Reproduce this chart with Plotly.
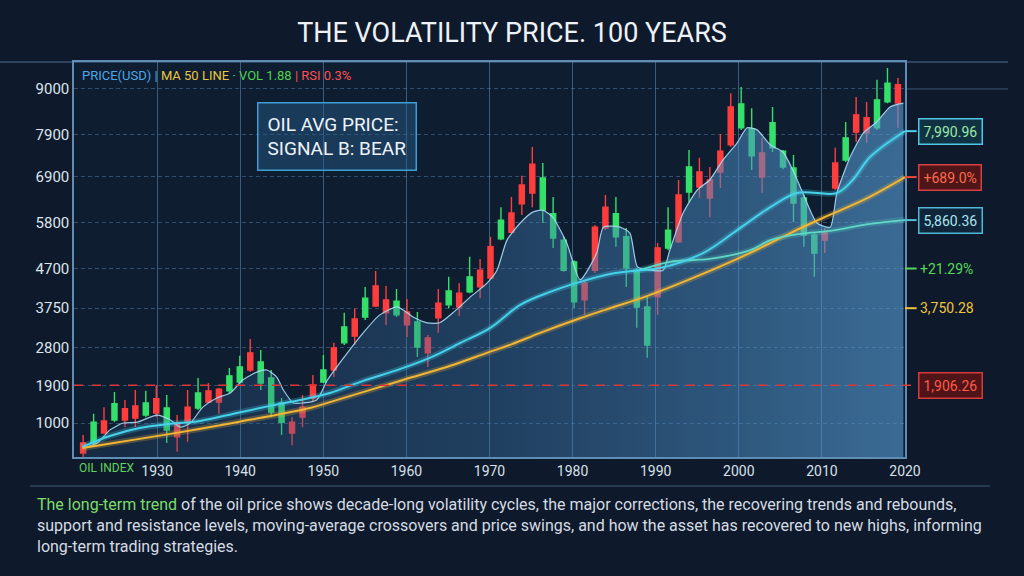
import plotly.graph_objects as go

# ---------------- data ----------------
opens = [520, 520, 1050, 1070, 1340, 1410, 1190, 1580, 830, 1000, 1380, 1360, 1770, 1810, 1770, 1980, 2680, 1960, 1260, 1020,
         1020, 1380, 1910, 1980, 2800, 2920, 3490, 3540, 4280, 3950, 3590, 3660, 2820, 3040, 3870, 3830, 4110, 4140, 4660, 5220,
         5410, 6030, 6700, 7200, 6100, 5430, 4660, 3900, 4350, 5690, 6170, 5460, 4710, 3780, 2870, 5190, 5190, 6460, 6530, 7010,
         6820, 7510, 8570, 8070, 7400, 7470, 7590, 7130, 6270, 5500, 5070, 5570, 7230, 7300, 8380, 8310, 8070, 8690, 9100]
highs = [710, 1220, 1380, 1740, 1550, 1790, 1770, 1910, 1670, 1190, 1790, 2080, 1960, 1840, 2320, 2610, 3010, 2750, 2270, 1600,
         1140, 1670, 2150, 2630, 2920, 3640, 3750, 4260, 4640, 4280, 4210, 3970, 3660, 3110, 4210, 4500, 4350, 4980, 4930, 5460,
         6170, 6410, 6920, 7610, 7230, 6410, 5460, 4900, 4430, 5740, 6460, 6410, 5670, 4710, 4040, 5310, 6170, 6820, 7540, 7350,
         7130, 7920, 8900, 9050, 8540, 7830, 8570, 7540, 7420, 6460, 5570, 5670, 7590, 8210, 8810, 8690, 9220, 9500, 9260]
lows = [160, 470, 740, 1020, 900, 900, 1140, 1140, 520, 310, 550, 1310, 1480, 1220, 1720, 1960, 2220, 1790, 1140, 710,
        470, 900, 1500, 1960, 2100, 2870, 2870, 3470, 3780, 3350, 3540, 3060, 2580, 2340, 3160, 3750, 3560, 4110, 3990, 4430,
        5380, 5550, 5980, 6170, 5790, 5190, 4620, 3750, 3590, 4590, 5620, 5220, 4260, 3280, 2560, 3590, 5140, 5310, 6290, 6390,
        5930, 6630, 7610, 8020, 7060, 6510, 7490, 7080, 5810, 5220, 4500, 5070, 6580, 7250, 7730, 7710, 8020, 8660, 8070]
closes = [280, 1020, 760, 1460, 1070, 1120, 1480, 1240, 1360, 670, 1020, 1720, 1500, 1500, 2130, 2340, 2270, 2460, 2080, 1480,
          760, 1140, 1600, 2270, 2270, 3300, 3080, 3990, 3800, 3640, 3920, 3350, 3420, 2680, 3520, 4160, 3780, 4500, 4260, 4470,
          5860, 5570, 6250, 6510, 6870, 6010, 5380, 4860, 3950, 4660, 5670, 6010, 5460, 4660, 3780, 4020, 5620, 5340, 7130, 6650,
          6390, 7010, 7660, 8640, 8040, 6890, 8190, 7510, 7110, 6390, 5500, 5380, 6630, 7830, 7970, 7950, 8740, 9140, 8660]
candle_years = [round(1921.1 + 1.257 * i, 2) for i in range(len(opens))]

fast_years = [1921.1, 1922.8, 1924.3, 1925.9, 1927.6, 1930.0, 1931.6, 1932.8, 1934.0, 1935.5, 1937.2, 1938.8, 1940.3, 1942.0,
              1943.2, 1944.4, 1945.2, 1946.4, 1947.6, 1949.2, 1950.5, 1952.9, 1954.8, 1956.8, 1958.9, 1960.8, 1962.5, 1964.0,
              1965.6, 1967.7, 1969.7, 1970.9, 1972.1, 1973.7, 1975.2, 1976.4, 1977.6, 1979.3, 1980.9, 1982.9, 1983.7, 1985.7,
              1986.9, 1987.8, 1989.3, 1990.9, 1991.7, 1993.3, 1995.0, 1996.5, 1998.1, 1999.8, 2001.0, 2002.2, 2003.8, 2005.3,
              2006.5, 2007.7, 2009.4, 2011.0, 2011.8, 2013.4, 2015.0, 2016.6, 2018.2, 2019.8]
fast_vals = [400, 520, 830, 1000, 1020, 1190, 1070, 900, 1000, 1380, 1600, 1720, 2030, 2220,
             2270, 2100, 1790, 1480, 1480, 1550, 2030, 2680, 3160, 3590, 3780, 3540, 3400, 3400,
             3640, 4020, 4350, 4660, 5380, 5790, 6050, 6100, 5930, 5310, 4430, 5070, 5690, 5690,
             5550, 4740, 4660, 4660, 5140, 6030, 6580, 6820, 7300, 7710, 8070, 8020, 7660, 7490,
             7060, 6510, 5790, 5690, 6510, 7370, 7950, 8210, 8570, 8660]

mid_years = [1921.0, 1924.3, 1927.9, 1931.6, 1935.2, 1939.6, 1943.6, 1947.2, 1950.8, 1954.8, 1959.2, 1962.8, 1966.5, 1970.1,
             1973.7, 1977.3, 1980.9, 1984.5, 1988.1, 1990.5, 1995.7, 1999.8, 2003.8, 2007.0, 2011.8, 2013.7, 2015.8, 2020.0]
mid_vals = [430, 690, 880, 980, 1050, 1240, 1410, 1550, 1720, 2010, 2290, 2560, 2920, 3280,
            3830, 4140, 4380, 4570, 4660, 4710, 5070, 5620, 6170, 6510, 6510, 6820, 7370, 7990]

slow_years = [1988.1, 1991.7, 1996.5, 2001.4, 2003.8, 2007.4, 2011.0, 2015.8, 2020.0]
slow_vals = [4660, 4860, 4930, 5140, 5380, 5530, 5600, 5770, 5860]

long_years = [1921.0, 1923.1, 1931.6, 1939.6, 1948.4, 1950.8, 1959.6, 1965.3, 1969.7, 1972.7, 1976.1, 1980.9, 1984.5,
              1988.7, 1995.3, 2000.8, 2006.2, 2010.1, 2015.2, 2020.0]
long_vals = [400, 470, 740, 1020, 1360, 1500, 2030, 2370, 2680, 2890, 3160, 3510, 3750,
             4020, 4540, 5020, 5550, 5910, 6360, 6890]

support_level = 1906
y_tick_vals = [1000, 1900, 2800, 3750, 4700, 5800, 6900, 7900, 9000]
y_tick_text = ["1000", "1900", "2800", "3750", "4700", "5800", "6900", "7900", "9000"]
x_tick_vals = [1930, 1940, 1950, 1960, 1970, 1980, 1990, 2000, 2010, 2020]
x_tick_text = ["1930", "1940", "1950", "1960", "1970", "1980", "1990", "2000", "2010", "2020"]

right_labels = [  # (value, text, text colour, border colour, background)
    (7990, "7,990.96", "#9be8a8", "#4fc6e6", "rgba(18,55,70,0.85)"),
    (6890, "+689.0%", "#ff6a48", "#d84040", "rgba(90,22,22,0.85)"),
    (5860, "5,860.36", "#a9e6f2", "#4fb8d8", "rgba(16,40,60,0.85)"),
    (4700, "+21.29%", "#58d858", None, None),
    (3750, "3,750.28", "#f0c43a", None, None),
    (support_level, "1,906.26", "#ff5a4a", "#d83a3a", "rgba(90,20,20,0.85)"),
]
connector_colors = ["#4fd0e8", "#e84a3a", "#4fc0d8", "#58d858", "#f0c43a", "#e03a3a"]

FONT = "Roboto, 'Noto Sans', sans-serif"

fig = go.Figure()

# filled area under the fast line
fig.add_trace(go.Scatter(
    x=fast_years, y=fast_vals, mode="lines", line=dict(color="rgba(170,220,245,0.9)", width=1.2, shape="spline", smoothing=0.6),
    fill="tozeroy",
    fillgradient=dict(type="horizontal",
                      colorscale=[[0, "rgba(45,90,140,0.22)"], [0.5, "rgba(60,120,175,0.38)"], [1, "rgba(85,155,210,0.62)"]]),
    hoverinfo="skip", showlegend=False))

# glow layers
for yrs, vals, col in [(long_years, long_vals, "rgba(240,180,50,0.25)"),
                       (mid_years, mid_vals, "rgba(70,210,235,0.25)"),
                       (slow_years, slow_vals, "rgba(90,215,200,0.2)")]:
    fig.add_trace(go.Scatter(x=yrs, y=vals, mode="lines", line=dict(color=col, width=6, shape="spline"),
                             hoverinfo="skip", showlegend=False))

fig.add_trace(go.Scatter(x=long_years, y=long_vals, mode="lines",
                         line=dict(color="#f2b534", width=2, shape="spline"), showlegend=False))
fig.add_trace(go.Scatter(x=slow_years, y=slow_vals, mode="lines",
                         line=dict(color="#5fd8c4", width=1.8, shape="spline"), showlegend=False))
fig.add_trace(go.Scatter(x=mid_years, y=mid_vals, mode="lines",
                         line=dict(color="#45d2ea", width=2, shape="spline"), showlegend=False))

fig.add_trace(go.Candlestick(
    x=candle_years, open=opens, high=highs, low=lows, close=closes,
    increasing=dict(line=dict(color="#35e06a", width=1.4), fillcolor="#35e06a"),
    decreasing=dict(line=dict(color="#ff3d3d", width=1.4), fillcolor="#ff3d3d"),
    whiskerwidth=0, showlegend=False))

# support line
fig.add_shape(type="line", xref="paper", yref="y", x0=0, x1=1.014, y0=support_level, y1=support_level,
              line=dict(color="#e03535", width=1.6, dash="dash"))

# connectors and right labels
for (val, txt, tc, bc, bg), cc in zip(right_labels, connector_colors):
    if val == support_level:
        continue
    fig.add_shape(type="line", xref="paper", yref="y", x0=1.0, x1=1.014, y0=val, y1=val,
                  line=dict(color=cc, width=2))
for val, txt, tc, bc, bg in right_labels:
    kw = dict(bordercolor=bc, borderwidth=1.5, bgcolor=bg, borderpad=4) if bc else {}
    fig.add_annotation(x=1.016, xref="paper", y=val, yref="y", xanchor="left", yanchor="middle",
                       text=txt, showarrow=False, font=dict(family=FONT, size=14, color=tc), **kw)

# top frame lines
fig.add_shape(type="line", xref="paper", yref="paper", x0=-0.089, x1=1.124, y0=1, y1=1,
              line=dict(color="rgba(100,150,195,0.7)", width=1.2))
fig.add_shape(type="line", xref="paper", yref="y", x0=1.0, x1=1.124, y0=9000, y1=9000,
              line=dict(color="rgba(100,150,195,0.5)", width=1))
# bottom separator
fig.add_shape(type="line", xref="paper", yref="paper", x0=-0.053, x1=1.102, y0=-0.0734, y1=-0.0734,
              line=dict(color="rgba(100,150,195,0.55)", width=1.2))

# legend-like header
fig.add_annotation(x=0.007, xref="paper", y=0.9646, yref="paper", xanchor="left", yanchor="middle", showarrow=False,
                   text=("<span style='color:#4aa8e8'>PRICE(USD) |</span> <span style='color:#e8c640'>MA 50 LINE</span>"
                         " <span style='color:#4fd04f'>· VOL 1.88</span> <span style='color:#ff5050'>| RSI 0.3%</span>"),
                   font=dict(family=FONT, size=13))

# info box
fig.add_annotation(x=0.2202, xref="paper", y=0.8987, yref="paper", xanchor="left", yanchor="top", showarrow=False,
                   text="OIL AVG PRICE:<br>SIGNAL B: BEAR", align="left",
                   font=dict(family=FONT, size=19, color="#eef4fa"),
                   bordercolor="#3d9ed6", borderwidth=1.5, bgcolor="rgba(40,95,140,0.45)", borderpad=9)

# green label at axis start
fig.add_annotation(x=0.004, xref="paper", y=-0.027, yref="paper", xanchor="left", yanchor="middle", showarrow=False,
                   text="OIL INDEX", font=dict(family=FONT, size=12, color="#5fd35f"))

# description paragraph
fig.add_annotation(
    x=-0.047, xref="paper", y=-0.092, yref="paper", xanchor="left", yanchor="top", showarrow=False, align="left",
    text=("<span style='color:#7ddc6a'>The long-term trend</span> of the oil price shows decade-long volatility cycles, "
          "the major corrections, the recovering trends and rebounds,<br>"
          "support and resistance levels, moving-average crossovers and price swings, and how the asset has "
          "recovered to new highs, informing<br>"
          "long-term trading strategies."),
    font=dict(family=FONT, size=16, color="#d5dbe3"))

fig.update_layout(
    width=1024, height=576,
    margin=dict(l=74, r=119, t=62, b=119),
    paper_bgcolor="#0e1a2b", plot_bgcolor="#0f1d30",
    title=dict(text="THE VOLATILITY PRICE. 100 YEARS", x=0.5, xanchor="center", y=0.943, yanchor="middle",
               font=dict(family=FONT, size=27, color="#eef2f6")),
    xaxis=dict(range=[1920, 2020], tickvals=x_tick_vals, ticktext=x_tick_text, showgrid=True,
               gridcolor="rgba(95,145,190,0.55)", gridwidth=1, showline=True, linecolor="#5f8db5", linewidth=1.5,
               mirror=True, zeroline=False, rangeslider=dict(visible=False), ticks="",
               tickfont=dict(family=FONT, size=14, color="#d8e0ea")),
    yaxis=dict(range=[186, 9646], tickvals=y_tick_vals, ticktext=y_tick_text, showgrid=True,
               gridcolor="rgba(95,140,185,0.45)", griddash="4px,3px", showline=True, linecolor="#5f8db5",
               linewidth=1.5, mirror=True, zeroline=False, ticks="",
               tickfont=dict(family=FONT, size=15, color="#dde4ec")),
    showlegend=False,
)

fig.write_html("out.html", config={"displayModeBar": False},
               post_script="document.body.style.margin='0';document.body.style.overflow='hidden';"
                           "document.body.style.background='#0e1a2b';")
